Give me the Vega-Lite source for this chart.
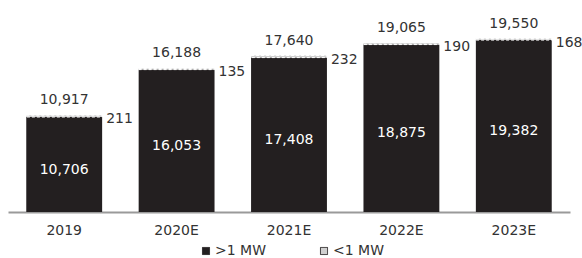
{
  "$schema": "https://vega.github.io/schema/vega-lite/v6.json",
  "width": 562,
  "height": 212,
  "autosize": "none",
  "padding": {"left": 8, "top": 0, "right": 12, "bottom": 46},
  "background": "white",
  "config": {
    "view": {"stroke": null},
    "font": "DejaVu Sans",
    "text": {"font": "DejaVu Sans"}
  },
  "data": {
    "values": [
      {"year": "2019", "big": 10706, "small": 211, "total": 10917},
      {"year": "2020E", "big": 16053, "small": 135, "total": 16188},
      {"year": "2021E", "big": 17408, "small": 232, "total": 17640},
      {"year": "2022E", "big": 18875, "small": 190, "total": 19065},
      {"year": "2023E", "big": 19382, "small": 168, "total": 19550}
    ]
  },
  "encoding": {
    "x": {
      "field": "year",
      "type": "nominal",
      "sort": null,
      "scale": {"paddingInner": 0.325, "paddingOuter": 0.1625},
      "axis": {
        "title": null,
        "labelAngle": 0,
        "ticks": false,
        "domainColor": "#9a9a9a",
        "domainWidth": 2,
        "labelPadding": 11,
        "labelFontSize": 14,
        "labelColor": "#333333",
        "labelFont": "DejaVu Sans"
      }
    }
  },
  "layer": [
    {
      "mark": {"type": "bar"},
      "encoding": {
        "y": {"field": "big", "type": "quantitative", "scale": {"domain": [0, 23900], "nice": false}, "axis": null},
        "color": {
          "datum": ">1 MW",
          "type": "nominal",
          "scale": {"domain": [">1 MW", "<1 MW"], "range": ["#231f20", "#cfcfcf"]},
          "legend": {
            "title": null,
            "orient": "none",
            "legendX": 191,
            "legendY": 244,
            "direction": "horizontal",
            "symbolType": "square",
            "symbolSize": 50,
            "symbolStrokeColor": "#231f20",
            "symbolStrokeWidth": 1,
            "labelFontSize": 14,
            "labelColor": "#333333",
            "labelFont": "DejaVu Sans",
            "labelOffset": 2,
            "columnPadding": 50,
            "encode": {
              "symbols": {"update": {"stroke": {"value": "#231f20"}, "strokeDash": {"value": [1, 0]}, "strokeWidth": {"value": 1}}}
            }
          }
        }
      }
    },
    {
      "mark": {"type": "bar", "stroke": "white", "strokeWidth": 1, "strokeDash": [3, 2]},
      "encoding": {
        "y": {"field": "big", "type": "quantitative"},
        "y2": {"field": "total"},
        "color": {"datum": "<1 MW", "type": "nominal"}
      }
    },
    {
      "transform": [{"calculate": "datum.big / 2", "as": "mid"}],
      "mark": {"type": "text", "color": "white", "fontSize": 14, "dy": 5, "baseline": "middle"},
      "encoding": {
        "y": {"field": "mid", "type": "quantitative"},
        "text": {"field": "big", "type": "quantitative", "format": ",d"}
      }
    },
    {
      "mark": {"type": "text", "color": "#333333", "fontSize": 14, "dy": -15, "baseline": "middle"},
      "encoding": {
        "y": {"field": "total", "type": "quantitative"},
        "text": {"field": "total", "type": "quantitative", "format": ",d"}
      }
    },
    {
      "mark": {"type": "text", "color": "#333333", "fontSize": 14, "dx": 4, "dy": 4, "align": "left", "baseline": "middle"},
      "encoding": {
        "x": {"field": "year", "type": "nominal", "sort": null, "bandPosition": 1},
        "y": {"field": "total", "type": "quantitative"},
        "text": {"field": "small", "type": "quantitative", "format": ",d"}
      }
    }
  ]
}
